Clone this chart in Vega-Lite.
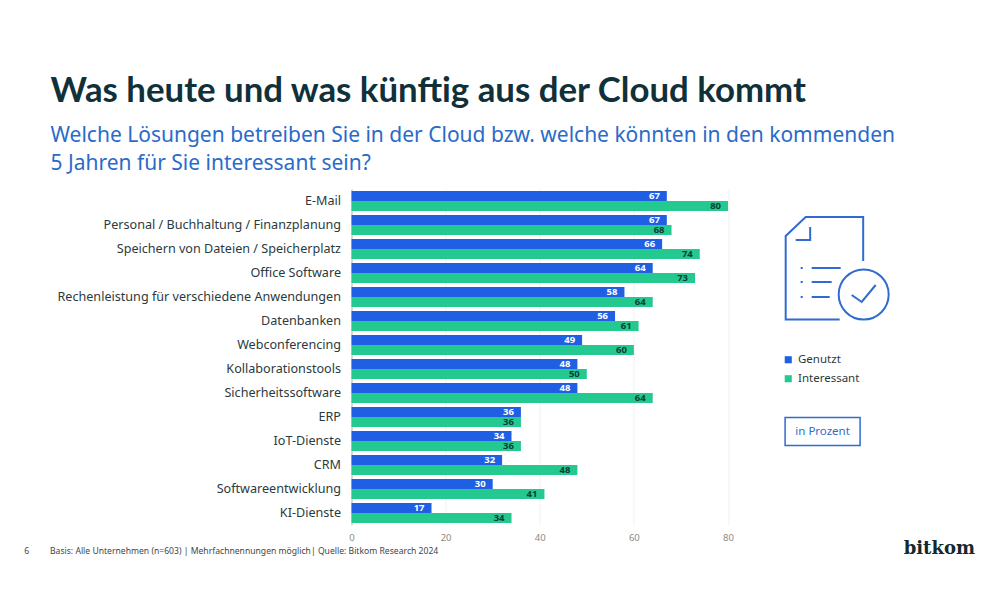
{
"$schema":"https://vega.github.io/schema/vega-lite/v6.json",
"autosize":{"type":"none"},
"padding":{"left":351.5,"top":189,"right":272,"bottom":75},
"width":376.5,"height":336,
"background":"white",
"title":{"text":"Was heute und was künftig aus der Cloud kommt","subtitle":["Welche Lösungen betreiben Sie in der Cloud bzw. welche könnten in den kommenden","5 Jahren für Sie interessant sein?"],"anchor":"start","frame":"group","dx":-301,"offset":14,"font":"Lato","fontSize":34.8,"fontWeight":"bold","color":"#10303a","subtitleFont":"Noto Sans","subtitleFontSize":21,"subtitleColor":"#2a6bc9","subtitleLineHeight":28,"subtitlePadding":15},
"datasets":{"answers":[
{"Loesung":"E-Mail","Serie":"Genutzt","Wert":67},{"Loesung":"E-Mail","Serie":"Interessant","Wert":80},
{"Loesung":"Personal / Buchhaltung / Finanzplanung","Serie":"Genutzt","Wert":67},{"Loesung":"Personal / Buchhaltung / Finanzplanung","Serie":"Interessant","Wert":68},
{"Loesung":"Speichern von Dateien / Speicherplatz","Serie":"Genutzt","Wert":66},{"Loesung":"Speichern von Dateien / Speicherplatz","Serie":"Interessant","Wert":74},
{"Loesung":"Office Software","Serie":"Genutzt","Wert":64},{"Loesung":"Office Software","Serie":"Interessant","Wert":73},
{"Loesung":"Rechenleistung für verschiedene Anwendungen","Serie":"Genutzt","Wert":58},{"Loesung":"Rechenleistung für verschiedene Anwendungen","Serie":"Interessant","Wert":64},
{"Loesung":"Datenbanken","Serie":"Genutzt","Wert":56},{"Loesung":"Datenbanken","Serie":"Interessant","Wert":61},
{"Loesung":"Webconferencing","Serie":"Genutzt","Wert":49},{"Loesung":"Webconferencing","Serie":"Interessant","Wert":60},
{"Loesung":"Kollaborationstools","Serie":"Genutzt","Wert":48},{"Loesung":"Kollaborationstools","Serie":"Interessant","Wert":50},
{"Loesung":"Sicherheitssoftware","Serie":"Genutzt","Wert":48},{"Loesung":"Sicherheitssoftware","Serie":"Interessant","Wert":64},
{"Loesung":"ERP","Serie":"Genutzt","Wert":36},{"Loesung":"ERP","Serie":"Interessant","Wert":36},
{"Loesung":"IoT-Dienste","Serie":"Genutzt","Wert":34},{"Loesung":"IoT-Dienste","Serie":"Interessant","Wert":36},
{"Loesung":"CRM","Serie":"Genutzt","Wert":32},{"Loesung":"CRM","Serie":"Interessant","Wert":48},
{"Loesung":"Softwareentwicklung","Serie":"Genutzt","Wert":30},{"Loesung":"Softwareentwicklung","Serie":"Interessant","Wert":41},
{"Loesung":"KI-Dienste","Serie":"Genutzt","Wert":17},{"Loesung":"KI-Dienste","Serie":"Interessant","Wert":34}
]},
"data":{"name":"answers"},
"layer":[
{"mark":{"type":"bar","cornerRadius":0},
 "encoding":{
  "y":{"field":"Loesung","type":"nominal","sort":null,"title":null,"scale":{"paddingInner":0.1667,"paddingOuter":0.0833},
   "axis":{"labelFont":"Noto Sans","labelFontSize":12.6,"labelColor":"#2b3a40","labelPadding":11,"ticks":false,"domainColor":"#bbbbbb","labelLimit":320}},
  "yOffset":{"field":"Serie","type":"nominal","scale":{"paddingInner":0,"paddingOuter":0}},
  "x":{"field":"Wert","type":"quantitative","title":"Basis: Alle Unternehmen (n=603) | Mehrfachnennungen möglich| Quelle: Bitkom Research 2024",
   "scale":{"domain":[0,80],"nice":false},
   "axis":{"values":[0,20,40,60,80],"grid":true,"gridColor":"#f1f1f1","domain":false,"ticks":false,"labelFlush":false,"labelFont":"Noto Sans","labelFontSize":9.5,"labelColor":"#8a8a8a","labelPadding":7,
    "titleFont":"Noto Sans","titleFontSize":8.6,"titleFontWeight":"normal","titleColor":"#444444","titleX":-302,"titleY":21,"titleAlign":"left","titleAnchor":"start"}},
  "color":{"field":"Serie","type":"nominal","scale":{"domain":["Genutzt","Interessant"],"range":["#1f5fe3","#24c98f"]},
   "legend":{"title":null,"orient":"none","legendX":431,"legendY":165,"symbolType":"square","symbolSize":50,"symbolStrokeWidth":0,"labelFont":"Noto Sans","labelFontSize":11.5,"labelColor":"#2b3a40","rowPadding":6,"labelOffset":4}}
 }},
{"mark":{"type":"text","align":"right","baseline":"middle","dx":-7,"font":"Noto Sans","fontWeight":"bold","fontSize":9.5},
 "encoding":{
  "y":{"field":"Loesung","type":"nominal","sort":null},
  "yOffset":{"field":"Serie","type":"nominal"},
  "x":{"field":"Wert","type":"quantitative"},
  "text":{"field":"Wert","type":"quantitative"},
  "color":{"condition":{"test":"datum.Serie==='Genutzt'","value":"#ffffff"},"value":"#0e3a34"}
 }},
{"data":{"values":[{"Element":"Symbol"}]},
 "mark":{"type":"point","filled":false,"size":4,"stroke":"#2f6bd0","strokeWidth":2,"opacity":1,"shape":"M26,-7 L26,-51 L-31.5,-51 L-51.5,-32 L-51.5,51.5 L2.5,51.5 M-27,-41 L-27,-28 L-41.5,-28 M-25.5,0 L3.5,0 M-25.5,14 L-5.5,14 M-25.5,29 L-7.5,29 M-36.5,0 L-34.5,0 M-36.5,14 L-34.5,14 M-36.5,29 L-34.5,29 M1.5,26.5 A25,25 0 1 1 51.5,26.5 A25,25 0 1 1 1.5,26.5 M14.5,27 L24.5,34 L38.5,17"},
 "encoding":{"x":{"datum":103.2},"y":{"datum":"Office Software"},"yOffset":{"value":5}}},
{"data":{"values":[{"Element":"Box"}]},
 "mark":{"type":"point","filled":false,"size":4,"stroke":"#2f6bd0","strokeWidth":1.5,"opacity":1,"shape":"M-37.5,-14 L37.5,-14 L37.5,14 L-37.5,14 Z"},
 "encoding":{"x":{"datum":100.1},"y":{"datum":"ERP"},"yOffset":{"value":24.5}}},
{"data":{"values":[{"t":"in Prozent"}]},
 "mark":{"type":"text","font":"Noto Sans","fontSize":11.5,"color":"#2f6bd0","baseline":"middle"},
 "encoding":{"x":{"datum":100.1},"y":{"datum":"ERP"},"yOffset":{"value":24.5},"text":{"field":"t"}}},
{"data":{"values":[{"t":"6"}]},
 "mark":{"type":"text","font":"Noto Sans","fontSize":8.6,"color":"#444444","baseline":"middle"},
 "encoding":{"x":{"datum":-69},"y":{"datum":"KI-Dienste"},"yOffset":{"value":48},"text":{"field":"t"}}},
{"data":{"values":[{"t":"bitkom"}]},
 "mark":{"type":"text","font":"DejaVu Serif","fontSize":18,"fontWeight":"bold","color":"#15282e","baseline":"middle"},
 "encoding":{"x":{"datum":124.9},"y":{"datum":"KI-Dienste"},"yOffset":{"value":46},"text":{"field":"t"}}}
],
"config":{"view":{"stroke":null}}
}
